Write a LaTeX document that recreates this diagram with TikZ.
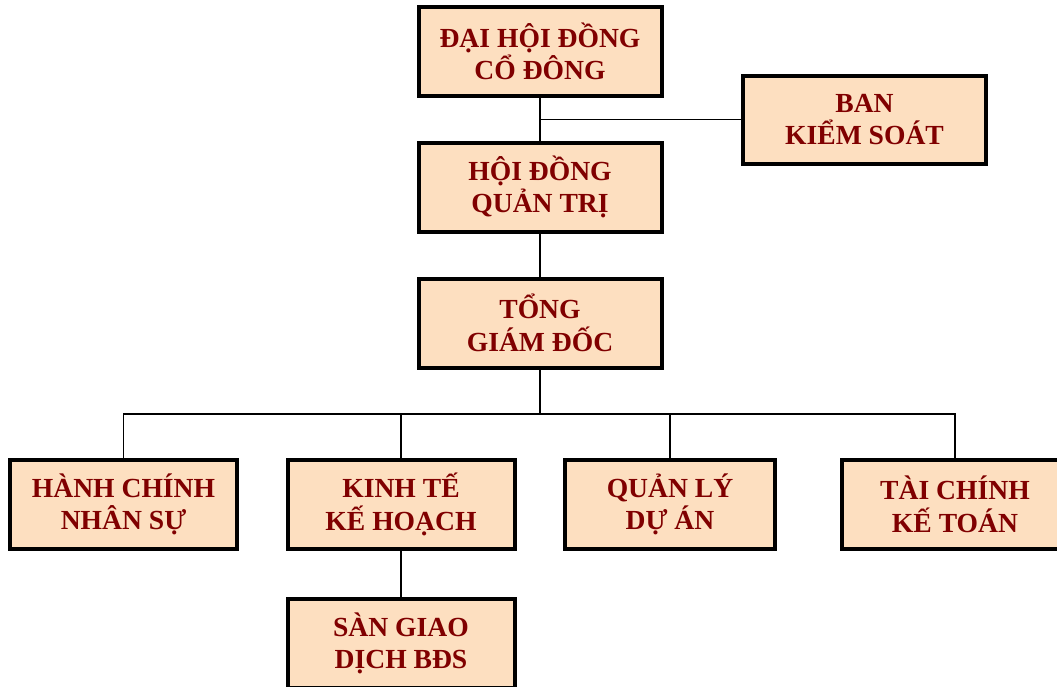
\documentclass[tikz,border=0pt]{standalone}
\usepackage{fontspec}
\setmainfont{Liberation Serif}
\definecolor{boxfill}{RGB}{253,223,192}
\definecolor{boxtext}{RGB}{128,0,0}
\begin{document}
\begin{tikzpicture}[x=0.75pt,y=-0.75pt,
  orgbox/.style={draw=black, line width=3pt, fill=boxfill, inner sep=0pt, outer sep=0pt,
    minimum height=66.75pt, align=center, text=boxtext,
    font=\fontsize{20.7}{24.5}\selectfont\bfseries},
  wide/.style={minimum width=182.25pt},
  narrow/.style={minimum width=170.25pt},
  link/.style={draw=black, line width=1.1pt}]
\useasboundingbox (0,0) rectangle (1057,686);
\clip (0,0) rectangle (1057,686);
\node[orgbox,wide] (dhcd) at (540,51.5) {ĐẠI HỘI ĐỒNG\\CỔ ĐÔNG};
\node[orgbox,wide] (hdqt) at (540,187) {HỘI ĐỒNG\\QUẢN TRỊ};
\node[orgbox,wide,minimum height=66pt] (bks) at (864.5,119.5) {BAN\\KIỂM SOÁT};
\node[orgbox,wide] (tgd) at (540,323) {TỔNG\\GIÁM ĐỐC};
\node[orgbox,narrow] (hcns) at (123.5,504.5) {HÀNH CHÍNH\\NHÂN SỰ};
\node[orgbox,narrow] (ktkh) at (401,504.5) {KINH TẾ\\KẾ HOẠCH};
\node[orgbox,minimum width=157.5pt] (qlda) at (670,504.5) {QUẢN LÝ\\DỰ ÁN};
\node[orgbox,narrow] (tckt) at (955,504.5) {TÀI CHÍNH\\KẾ TOÁN};
\node[orgbox,narrow] (sgd) at (401,643.5) {SÀN GIAO\\DỊCH BĐS};
\coordinate (bus) at (540,414);
\draw[link] (dhcd.south) -- (hdqt.north);
\draw[link] (bks.west) -- (bks.west -| dhcd.south);
\draw[link] (hdqt.south) -- (tgd.north);
\draw[link] (tgd.south) -- (bus);
\draw[link] (hcns.north) -- (hcns.north |- bus) -- (tckt.north |- bus) -- (tckt.north);
\draw[link] (ktkh.north) -- (ktkh.north |- bus);
\draw[link] (qlda.north) -- (qlda.north |- bus);
\draw[link] (ktkh.south) -- (sgd.north);
\end{tikzpicture}
\end{document}
